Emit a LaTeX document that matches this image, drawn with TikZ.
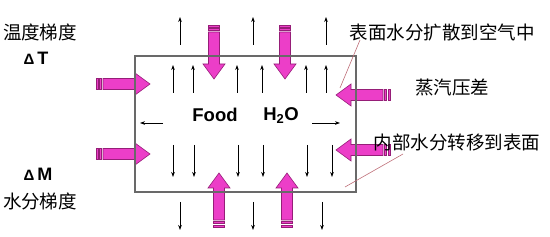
\documentclass[tikz,border=0pt]{standalone}
\usepackage{fontspec}
\setmainfont{Liberation Sans}
\newfontfamily\cjk{Noto Sans CJK SC}
\usetikzlibrary{arrows.meta}
\definecolor{pinkfill}{RGB}{236,62,200}
\definecolor{pinkline}{RGB}{150,30,120}
\definecolor{leadercol}{RGB}{190,110,120}
\definecolor{boxline}{RGB}{105,105,105}
\tikzset{
  fatarrow/.pic={
    \filldraw[fill=pinkfill,draw=pinkline,line width=0.6pt]
      (7,-5.5) -- (39,-5.5) -- (39,-11) -- (54,0) -- (39,11) -- (39,5.5) -- (7,5.5) -- cycle;
    \filldraw[fill=pinkfill,draw=pinkline,line width=0.6pt] (0,-5.5) rectangle (2,5.5);
    \filldraw[fill=pinkfill,draw=pinkline,line width=0.6pt] (3.5,-5.5) rectangle (5.5,5.5);
  },
  thinarrow/.style={-{Stealth[length=5pt,width=3.6pt]}, line width=0.7pt, black},
  cjklabel/.style={font=\cjk\fontsize{18.5}{20}\selectfont, inner sep=0pt},
  boldlabel/.style={font=\bfseries\fontsize{18.5}{20}\selectfont, inner sep=0pt},
  deltalabel/.style={font=\bfseries\fontsize{18}{20}\selectfont, inner sep=0pt},
  leaderline/.style={draw=leadercol, line width=0.6pt},
}
\begin{document}
\begin{tikzpicture}[x=1pt,y=-1pt]
\useasboundingbox (0,0) rectangle (550,237);
% thin arrows outside top
\foreach \x in {180,253,326} \draw[thinarrow] (\x,45) -- (\x,17);
% thin arrows inside top
\foreach \x in {173,193,237,262,306,326} \draw[thinarrow] (\x,93) -- (\x,65);
% thin arrows inside bottom
\foreach \x in {173,194,238,263,307,332} \draw[thinarrow] (\x,145) -- (\x,177);
% thin arrows outside bottom
\foreach \x in {180,253,322} \draw[thinarrow] (\x,202) -- (\x,230);
% horizontal middle
\draw[thinarrow] (163,123) -- (140,123);
\draw[thinarrow] (312,123) -- (340,123);
% fat arrows
\pic at (96,84) {fatarrow};
\pic at (96,154) {fatarrow};
\pic[rotate=180] at (390,95) {fatarrow};
\pic[rotate=180] at (390,150) {fatarrow};
\pic[rotate=-90] at (214,25) {fatarrow};
\pic[rotate=-90] at (285,25) {fatarrow};
\pic[rotate=90] at (219,227) {fatarrow};
\pic[rotate=90] at (287,227) {fatarrow};
% box
\draw[boxline, line width=1.2pt] (135,56) rectangle (356,192);
% texts
\node[boldlabel] (food) at (215,115) {Food};
\node[boldlabel] (water) at (281,116) {H\textsubscript{2}O};
\node[cjklabel] (tgrad) at (40,32) {温度梯度};
\node[deltalabel] (dt) at (36,58) {{\fontsize{15}{18}\selectfont Δ}\hspace{3pt}T};
\node[deltalabel] (dm) at (38,174) {{\fontsize{15}{18}\selectfont Δ}\hspace{3pt}M};
\node[cjklabel] (mgrad) at (40,201) {水分梯度};
\node[cjklabel] (surf) at (442,32) {表面水分扩散到空气中};
\node[cjklabel] (vap) at (452,88) {蒸汽压差};
\node[cjklabel] (inner) at (457,142) {内部水分转移到表面};
% leaders
\coordinate (l1a) at (360,40);
\coordinate (l1b) at (340,88);
\coordinate (l2a) at (403,154);
\coordinate (l2b) at (345,187);
\draw[leaderline] (l1a) -- (l1b);
\draw[leaderline] (l2a) -- (l2b);
\end{tikzpicture}
\end{document}
